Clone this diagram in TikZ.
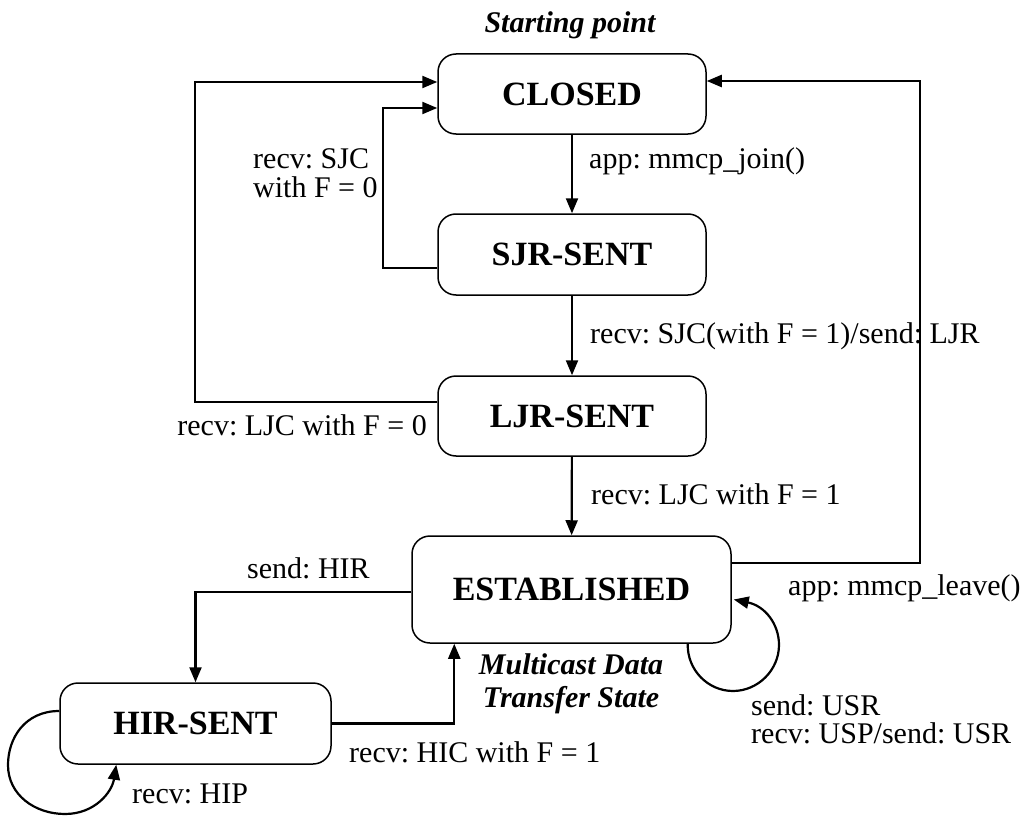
\documentclass[tikz,border=0pt]{standalone}
\usepackage{fontspec}
\setmainfont{Liberation Serif}
\usetikzlibrary{arrows.meta,calc}
\begin{document}
\frenchspacing
\begin{tikzpicture}[x=1pt,y=-1pt,
  state/.style={draw,line width=1.5pt,rounded corners=18pt,inner sep=0pt,
    minimum width=268pt,minimum height=80pt,
    font=\fontsize{34}{40}\selectfont\bfseries},
  conn/.style={line width=2.2pt,-{Triangle[length=15pt,width=12pt]}},
  lbl/.style={inner sep=0pt,font=\fontsize{30}{36}\selectfont},
  note/.style={inner sep=0pt,font=\fontsize{30}{36}\selectfont\bfseries\itshape}]
\fill[white] (0,0) rectangle (1026,816);
\useasboundingbox (0,0) rectangle (1026,816);

\node[state] (closed) at (572,94) {CLOSED};
\node[state,minimum height=81pt] (sjr) at (572,254.5) {SJR-SENT};
\node[state] (ljr) at (572,416) {LJR-SENT};
\node[state,minimum width=319pt,minimum height=107pt] (est) at (571.5,589.5) {ESTABLISHED};
\node[state,minimum width=271pt,minimum height=81pt] (hir) at (195.5,723.5) {HIR-SENT};

\node[note,anchor=base] (start) at (570,33) {Starting point};
\node[note,anchor=base] (mdt1) at (571,674) {Multicast Data};
\node[note,anchor=base] (mdt2) at (571,707) {Transfer State};

% straight transitions
\draw[conn] (closed) -- (sjr);
\draw[conn] (sjr) -- (ljr);
\draw[conn] (ljr) -- (est);
\node[lbl,anchor=base west] (l1) at (589,168) {app: mmcp\_join()};
\node[lbl,anchor=base west] (l2) at (590,343) {recv: SJC(with F = 1)/send: LJR};
\node[lbl,anchor=base west] (l3) at (591,504) {recv: LJC with F = 1};

% SJR-SENT back to CLOSED
\draw[conn] ($(sjr.west)+(0,13.5)$) -- ++(-54,0) |- ($(closed.west)+(0,14)$);
\node[lbl,anchor=base west] (l4a) at (253,168) {recv: SJC};
\node[lbl,anchor=base west] (l4b) at (253,197) {with F = 0};

% LJR-SENT back to CLOSED
\draw[conn] ($(ljr.west)+(0,-14)$) -- ++(-242,0) |- ($(closed.west)+(0,-12)$);
\node[lbl,anchor=base east] (l5) at (427,435) {recv: LJC with F = 0};

% ESTABLISHED back to CLOSED
\draw[conn] ($(est.east)+(0,-26.5)$) -- ++(188,0) |- ($(closed.east)+(0,-13)$);
\node[lbl,anchor=base west] (l6) at (788,595) {app: mmcp\_leave()};

% ESTABLISHED to HIR-SENT
\draw[conn] ($(est.west)+(0,2.5)$) -| (hir.north);
\node[lbl,anchor=base west] (l7) at (247,578) {send: HIR};

% HIR-SENT to ESTABLISHED
\draw[conn] (hir.east) -| ($(est.south west)+(43,0)$);
\node[lbl,anchor=base west] (l8) at (349,762) {recv: HIC with F = 1};

% HIR-SENT self loop
\draw[conn] ($(hir.west)+(0,-12.5)$) .. controls (25,711) and (8,738) .. (8,765)
  .. controls (8,795) and (35,814) .. (65,814)
  .. controls (95,814) and (112,792) .. ($(hir.south west)+(57,0)$);
\node[lbl,anchor=base west] (l9) at (132,803) {recv: HIP};

% ESTABLISHED self loop
\draw[conn] ($(est.south east)+(-44,0)$) .. controls (687,670) and (708,691) .. (733,691)
  .. controls (758,691) and (779,670) .. (779,645)
  .. controls (779,624) and (765,606) .. ($(est.east)+(2,10)$);
\node[lbl,anchor=base west] (l10a) at (751,715) {send: USR};
\node[lbl,anchor=base west] (l10b) at (751,743) {recv: USP/send: USR};
\end{tikzpicture}
\end{document}
